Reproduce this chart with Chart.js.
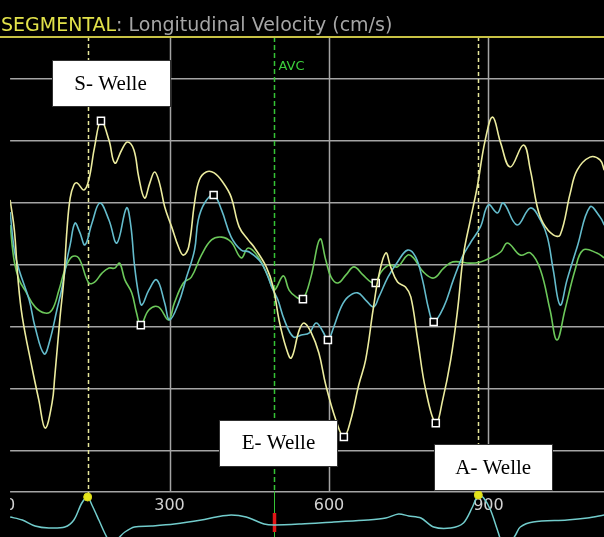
<!DOCTYPE html>
<html>
<head>
<meta charset="utf-8">
<title>SEGMENTAL: Longitudinal Velocity (cm/s)</title>
<script src="https://cdn.jsdelivr.net/npm/chart.js@4.4.1/dist/chart.umd.min.js"></script>
<style>
  html, body { margin: 0; padding: 0; background: #000; }
  #velocity-chart { display: block; }
</style>
</head>
<body>
<canvas id="velocity-chart" width="604" height="537"></canvas>
<script>
// segment traces: time in ms, velocity in cm/s
var yellowTimes = [0, 8, 15, 23, 41, 54, 66, 79, 84, 94, 101, 107, 113, 120, 126, 139, 148, 159, 171, 186,
    197, 210, 221, 233, 242, 253, 263, 272, 281, 291, 304, 317, 326, 336, 347, 356, 369, 384, 401, 416,
    431, 448, 459, 482, 495, 506, 519, 529, 544, 553, 566, 581, 594, 613, 628, 641, 656, 669, 683, 694,
    707, 716, 729, 744, 754, 767, 782, 801, 814, 829, 842, 853, 866, 879, 894, 908, 923, 941, 966, 979,
    992, 1003, 1022, 1035, 1054, 1067, 1091, 1110, 1118];
var yellowValues = [2.10, 1.13, -0.48, -1.68, -3.29, -4.35, -5.26, -4.45, -3.61, -1.68, -0.48, 1.13, 2.16, 2.58, 2.65, 2.42, 2.74, 3.81, 4.65, 4.03,
    3.29, 3.71, 3.97, 3.71, 2.84, 2.16, 2.65, 3.0, 2.65, 1.87, 1.23, 0.58, 0.32, 0.58, 2.0, 2.74, 3.0, 2.97, 2.65, 2.19,
    1.23, 0.81, 0.58, -0.06, -0.71, -1.77, -2.65, -3.0, -2.10, -1.87, -2.16, -2.84, -3.87, -5.0, -5.55, -5.0, -3.87, -3.06, -1.45, -0.32,
    0.39, -0.06, -0.55, -0.71, -1.03, -2.42, -4.03, -5.10, -4.35, -3.06, -1.45, 0.32, 1.45, 2.52, 4.03, 4.77, 3.94, 3.16, 3.87, 3.06,
    1.87, 1.35, 0.97, 0.97, 2.32, 3.06, 3.48, 3.39, 3.06];
var yellowMarks = [18, 54, 67];

var cyanTimes = [0, 8, 17, 36, 47, 64, 75, 88, 98, 107, 113, 122, 131, 141, 154, 169, 186, 201, 219, 227,
    234, 242, 248, 261, 276, 291, 300, 317, 332, 347, 354, 366, 383, 398, 416, 435, 450, 473, 495, 504,
    516, 533, 548, 563, 576, 589, 598, 609, 623, 636, 654, 669, 684, 694, 711, 729, 748, 763, 776, 788,
    797, 816, 834, 851, 866, 885, 900, 917, 928, 954, 979, 998, 1011, 1022, 1035, 1048, 1067, 1091, 1110, 1118];
var cyanValues = [1.71, 0.48, -0.16, -1.13, -2.0, -2.87, -2.42, -1.45, -0.71, 0.16, 0.65, 1.35, 1.06, 0.65, 1.35, 2.0, 1.45, 0.71, 1.84, 1.29,
    0, -0.97, -1.29, -0.81, -0.48, -1.23, -1.77, -1.23, -0.39, 0.48, 1.45, 2.0, 2.26, 1.77, 0.90, 0.48, 0.42, 0.06, -0.81, -1.13,
    -1.77, -2.32, -2.26, -2.19, -1.87, -2.16, -2.42, -2.0, -1.35, -1.03, -0.90, -1.13, -1.35, -1.03, -0.39, 0.10, 0.48, 0.26, -0.48, -1.45,
    -1.84, -1.35, -0.48, 0.26, 0.71, 1.23, 1.94, 1.68, 2.0, 1.29, 1.84, 1.45, 0.90, -0.16, -1.29, -0.48, 0.58, 1.87, 1.55, 1.29];
var cyanMarks = [32, 46, 60];

var greenTimes = [0, 8, 17, 28, 47, 66, 79, 92, 103, 116, 129, 148, 159, 173, 186, 197, 206, 216, 229, 238,
    246, 261, 279, 298, 309, 326, 341, 360, 379, 398, 416, 435, 448, 467, 486, 497, 514, 525, 538, 551,
    566, 583, 594, 604, 617, 632, 647, 664, 679, 688, 698, 713, 729, 748, 759, 778, 797, 816, 833, 866,
    885, 904, 923, 936, 960, 979, 998, 1016, 1029, 1044, 1063, 1078, 1104, 1118];
var greenValues = [1.29, 0.10, -0.48, -0.81, -1.35, -1.55, -1.45, -0.81, -0.16, 0.26, 0.23, -0.58, -0.55, -0.26, -0.10, -0.10, 0.06, -0.48, -0.90, -1.55,
    -1.94, -1.45, -1.35, -1.77, -1.23, -0.58, -0.39, 0.32, 0.81, 0.90, 0.74, 0.23, 0.55, 0.26, -0.39, -0.81, -0.35, -0.81, -1.03, -1.10,
    -0.39, 0.84, 0.16, -0.39, -0.58, -0.32, -0.06, -0.32, -0.55, -0.58, -0.23, 0, -0.06, 0.32, 0.23, -0.23, -0.42, -0.10, 0.10, 0.06,
    0.10, 0.23, 0.42, 0.71, 0.32, 0.39, -0.16, -1.45, -2.42, -1.45, -0.16, 0.48, 0.39, 0.23];
var greenMarks = [20, 39, 49];

// ECG strip under the time axis (mV)
var ecgTimes = [0, 23, 47, 73, 103, 120, 135, 146, 154, 167, 178, 188, 197, 206, 216, 234, 266, 309, 360, 388,
    416, 444, 478, 497, 548, 609, 673, 707, 731, 750, 773, 797, 829, 853, 870, 881, 891, 904, 917, 926,
    941, 951, 960, 984, 1048, 1086, 1118];
var ecgValues = [0.15, 0, -0.3, -0.4, -0.35, 0, 0.85, 1.15, 0.75, 0, -0.65, -1.1, -1.1, -0.85, -0.6, -0.35, -0.3, -0.2, 0, 0.15,
    0.25, 0.15, -0.2, -0.25, -0.2, -0.1, 0, 0.1, 0.3, 0.2, 0.1, -0.35, -0.4, -0.15, 0.65, 1.25, 1.1, 0.5, -0.5, -1.1,
    -1.1, -0.75, -0.35, -0.1, 0, 0.1, 0.25];
var rPeaks = [7, 35];

var xTicks = [0, 300, 600, 900];
var yGrid = [-6, -4, -2, 0, 2, 4, 6];
var waveNames = ['S- Welle', 'E- Welle', 'A- Welle'];
var avcTime = 497;

var axisFloor = -7.3;   // velocity at the time axis line
var gridColor = '#a4a4a4';

function points(times, values) {
    return times.map(function(t, i) { return { x: t, y: values[i] }; });
}

function curve(times, values, marks, color) {
    return {
        data: points(times, values),
        yAxisID: 'y',
        borderColor: color,
        borderWidth: 1.6,
        tension: 0.4,
        pointStyle: 'rect',
        pointRadius: function(c) { return marks.indexOf(c.dataIndex) >= 0 ? 5 : 0; },
        pointBorderColor: '#ffffff',
        pointBackgroundColor: '#000000',
        pointBorderWidth: 1.5
    };
}

var echoOverlay = {
    id: 'echoOverlay',
    beforeDraw: function(chart) {
        var ctx = chart.ctx;
        ctx.save();
        ctx.fillStyle = '#000';
        ctx.fillRect(0, 0, chart.width, chart.height);
        ctx.restore();
    },
    beforeDatasetsDraw: function(chart, args, opts) {
        var ctx = chart.ctx;
        var area = chart.chartArea;
        var x = chart.scales.x, y = chart.scales.y, ecg = chart.scales.ecg;
        var axisPx = y.getPixelForValue(axisFloor);
        ctx.save();

        // vertical grid stops at the time axis
        ctx.strokeStyle = gridColor;
        ctx.lineWidth = 1.5;
        xTicks.forEach(function(t) {
            if (t === 0) return;
            var px = Math.round(x.getPixelForValue(t)) + 0.5;
            ctx.beginPath();
            ctx.moveTo(px, area.top);
            ctx.lineTo(px, axisPx);
            ctx.stroke();
        });

        // R-wave markers, dashed down to the ECG
        ctx.strokeStyle = '#e6e69a';
        ctx.lineWidth = 1.5;
        ctx.setLineDash([4, 3]);
        rPeaks.forEach(function(i) {
            var px = Math.round(x.getPixelForValue(ecgTimes[i])) + 0.5;
            ctx.beginPath();
            ctx.moveTo(px, area.top);
            ctx.lineTo(px, ecg.getPixelForValue(ecgValues[i]));
            ctx.stroke();
        });

        // aortic valve closure
        var avcPx = Math.round(x.getPixelForValue(avcTime)) + 0.5;
        ctx.strokeStyle = '#36c436';
        ctx.setLineDash([5, 3]);
        ctx.beginPath();
        ctx.moveTo(avcPx, area.top);
        ctx.lineTo(avcPx, axisPx);
        ctx.stroke();
        ctx.setLineDash([]);
        ctx.lineWidth = 1;
        ctx.beginPath();
        ctx.moveTo(avcPx, axisPx);
        ctx.lineTo(avcPx, area.bottom);
        ctx.stroke();
        ctx.strokeStyle = '#e01818';
        ctx.lineWidth = 3.5;
        ctx.beginPath();
        ctx.moveTo(avcPx, ecg.getPixelForValue(0.35));
        ctx.lineTo(avcPx, ecg.getPixelForValue(-0.6));
        ctx.stroke();

        ctx.fillStyle = '#3ccf3c';
        ctx.font = '13px "DejaVu Sans"';
        ctx.textBaseline = 'middle';
        ctx.fillText('AVC', avcPx + 4, area.top + 30);
        ctx.restore();
    },
    afterDatasetsDraw: function(chart, args, opts) {
        var ctx = chart.ctx;
        var x = chart.scales.x, y = chart.scales.y;
        ctx.save();
        opts.boxes.forEach(function(b) {
            var cx = x.getPixelForValue(b.time);
            var cy = y.getPixelForValue(b.value);
            var l = Math.round(cx - 59) + 0.5, t = Math.round(cy - 23) + 0.5;
            ctx.fillStyle = '#ffffff';
            ctx.fillRect(l, t, 118, 46);
            ctx.strokeStyle = '#303030';
            ctx.lineWidth = 1;
            ctx.strokeRect(l, t, 118, 46);
            ctx.fillStyle = '#000000';
            ctx.font = '21px "Liberation Serif"';
            ctx.textAlign = 'center';
            ctx.textBaseline = 'middle';
            ctx.fillText(b.text, cx, cy + 1);
        });
        ctx.restore();
    },
    afterDraw: function(chart) {
        var ctx = chart.ctx;
        var area = chart.chartArea;
        ctx.save();
        // tick label at the left edge is cut by the plot border
        ctx.fillStyle = '#000';
        ctx.fillRect(0, area.top + 1, area.left, chart.height - area.top);

        ctx.strokeStyle = '#c8c244';
        ctx.lineWidth = 2;
        ctx.beginPath();
        ctx.moveTo(0, area.top);
        ctx.lineTo(chart.width, area.top);
        ctx.stroke();

        ctx.font = '19px "DejaVu Sans"';
        ctx.textBaseline = 'alphabetic';
        var head = 'SEGMENTAL';
        ctx.fillStyle = '#e2e24a';
        ctx.fillText(head, 1, 31);
        ctx.fillStyle = '#a6a6a6';
        ctx.fillText(': Longitudinal Velocity (cm/s)', 1 + ctx.measureText(head).width, 31);
        ctx.restore();
    }
};

document.addEventListener("DOMContentLoaded", function() {
    var ctx = document.getElementById('velocity-chart').getContext('2d');
    var ecgSet = {
        data: points(ecgTimes, ecgValues),
        yAxisID: 'ecg',
        borderColor: '#72cccc',
        borderWidth: 1.5,
        tension: 0.3,
        pointStyle: 'circle',
        pointRadius: function(c) { return rPeaks.indexOf(c.dataIndex) >= 0 ? 4 : 0; },
        pointBackgroundColor: '#e4e41c',
        pointBorderColor: '#d6d61a',
        pointBorderWidth: 1
    };

    window.chart = new Chart(ctx, {
        type: 'line',
        data: {
            datasets: [
                curve(yellowTimes, yellowValues, yellowMarks, '#ecec9e'),
                curve(cyanTimes, cyanValues, cyanMarks, '#64bccc'),
                curve(greenTimes, greenValues, greenMarks, '#6cc85a'),
                ecgSet
            ]
        },
        options: {
            responsive: false,
            animation: false,
            devicePixelRatio: 1,
            events: [],
            layout: { padding: { left: 8, top: 37, right: 0, bottom: 0 } },
            scales: {
                x: {
                    type: 'linear',
                    min: 0,
                    max: 1117.5,
                    position: { y: axisFloor },
                    afterBuildTicks: function(s) { s.ticks = xTicks.map(function(v) { return { value: v }; }); },
                    grid: { display: false, drawTicks: false },
                    border: { display: true, color: gridColor, width: 1.5 },
                    ticks: {
                        color: '#d2d2d2',
                        font: { family: 'DejaVu Sans', size: 16 },
                        padding: 5,
                        autoSkip: false,
                        maxRotation: 0,
                        callback: function(v) { return String(v); }
                    }
                },
                y: {
                    type: 'linear',
                    min: -8.774,
                    max: 7.355,
                    afterBuildTicks: function(s) { s.ticks = yGrid.map(function(v) { return { value: v }; }); },
                    grid: { color: gridColor, lineWidth: 1.5, drawTicks: false },
                    border: { display: false },
                    ticks: { display: false }
                },
                ecg: {
                    type: 'linear',
                    display: false,
                    min: -0.85,
                    max: 24.15
                }
            },
            plugins: {
                legend: { display: false },
                tooltip: { enabled: false },
                echoOverlay: {
                    boxes: [
                        { text: waveNames[0], time: 189, value: 5.87 },
                        { text: waveNames[1], time: 505, value: -5.73 },
                        { text: waveNames[2], time: 909, value: -6.52 }
                    ]
                }
            }
        },
        plugins: [echoOverlay]
    });
});
</script>
</body>
</html>
